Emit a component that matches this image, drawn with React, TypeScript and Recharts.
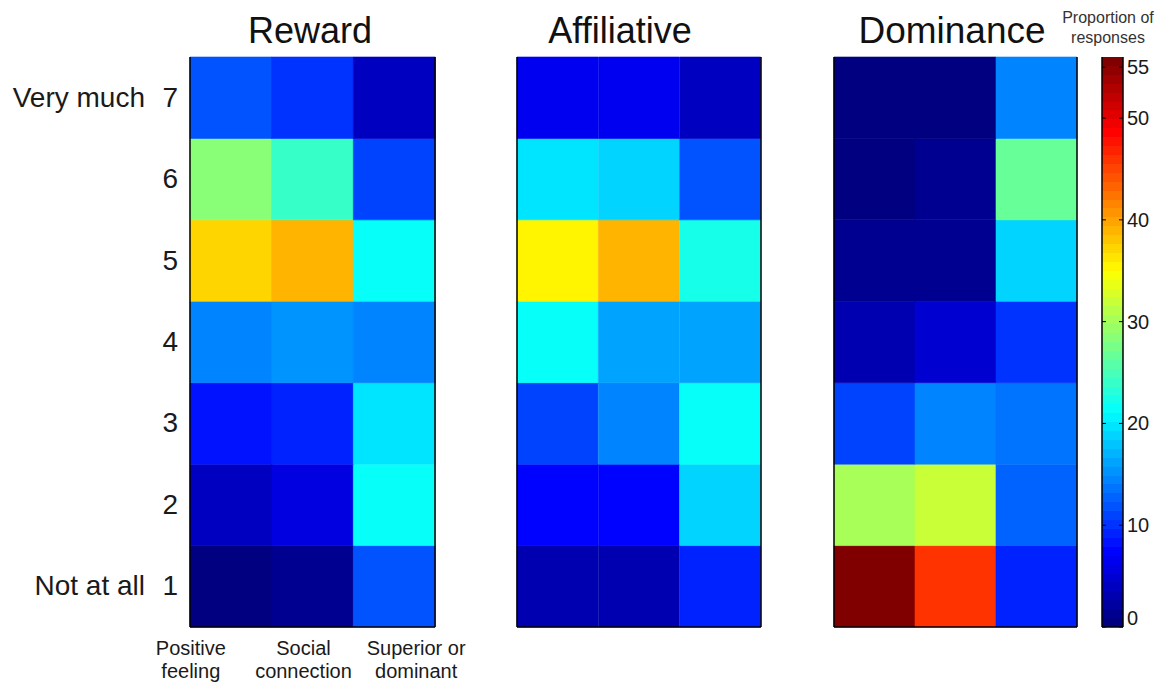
import { BarChart, Bar, Cell, XAxis, YAxis } from 'recharts';

const FONT = '"Liberation Sans", Arial, Helvetica, sans-serif';

// colour scale limits (proportion of responses, %)
const C_MIN = 0;
const C_MAX = 56;
const colorTicks = [0, 10, 20, 30, 40, 50, 55];

const categories = ['Positive feeling', 'Social connection', 'Superior or dominant'];
const categoryLines = [['Positive', 'feeling'], ['Social', 'connection'], ['Superior or', 'dominant']];
const ratings = [1, 2, 3, 4, 5, 6, 7];
const ratingAnchors = ['Not at all', '', '', '', '', '', 'Very much'];

// rows = rating 1..7, columns = categories
const reward = [
  [0.7, 1.4, 11.9],
  [3.5, 5.3, 21],
  [8.4, 9, 20],
  [14, 15.7, 14.7],
  [37.1, 38.9, 21.5],
  [28, 23.8, 10.6],
  [11.6, 10, 3.9],
];

const affiliative = [
  [2.8, 2.8, 8.8],
  [7, 7, 19.2],
  [10.8, 14, 21.7],
  [21, 16.5, 16.5],
  [35.7, 38.5, 22.4],
  [19.6, 18.9, 11.9],
  [6.3, 6.3, 3.9],
];

const dominance = [
  [55.8, 46.2, 9.1],
  [29.8, 32.2, 12.3],
  [10.6, 14, 13.6],
  [3.1, 5.2, 9.8],
  [1.1, 1.4, 18.9],
  [0.7, 1.1, 26.6],
  [0.7, 0.7, 14],
];

const clamp = (v: number) => Math.max(0, Math.min(1, v));
const jet = (t: number) => {
  const r = clamp(1.5 - Math.abs(4 * t - 3));
  const g = clamp(1.5 - Math.abs(4 * t - 2));
  const b = clamp(1.5 - Math.abs(4 * t - 1));
  return `rgb(${Math.round(r * 255)},${Math.round(g * 255)},${Math.round(b * 255)})`;
};
const levelColor = (v: number) => {
  const idx = Math.min(63, Math.max(0, Math.floor(((v - C_MIN) / (C_MAX - C_MIN)) * 64)));
  return jet(idx / 63);
};

const heatData = categories.map((name) => {
  const row: Record<string, any> = { name };
  ratings.forEach((r) => (row[`r${r}`] = 1));
  return row;
});
const rowTicks = ratings.map((r) => r - 0.5);
const labelShift = [-40, -9, 22];

const RatingTick = ({ x, y, payload }: any) => {
  const i = Math.round(payload.value - 0.5);
  return (
    <g>
      <text x={x - 12} y={y} dy={9} textAnchor="end" fontSize={28} fill="#1a1a1a" fontFamily={FONT}>
        {ratings[i]}
      </text>
      {ratingAnchors[i] && (
        <text x={x - 45} y={y} dy={9} textAnchor="end" fontSize={28} fill="#1a1a1a" fontFamily={FONT}>
          {ratingAnchors[i]}
        </text>
      )}
    </g>
  );
};

const CategoryTick = ({ x, y, index }: any) => (
  <text x={x + labelShift[index]} y={y} textAnchor="middle" fontSize={20} fill="#1a1a1a" fontFamily={FONT}>
    {categoryLines[index].map((line, k) => (
      <tspan key={k} x={x + labelShift[index]} y={y + 28 + k * 23}>
        {line}
      </tspan>
    ))}
  </text>
);

type PanelProps = { values: number[][]; left: number; width: number; plotLeft: number; plotRight: number; labels?: boolean };

function Panel({ values, left, width, plotLeft, plotRight, labels }: PanelProps) {
  return (
    <div style={{ position: 'absolute', left, top: 0 }}>
      <BarChart width={width} height={683} data={heatData} barCategoryGap={0} barGap={0} margin={{ top: 57, right: 0, bottom: 0, left: 0 }}>
        <XAxis dataKey="name" height={56} axisLine={{ stroke: '#000', strokeWidth: 1.5 }} tickLine={false} tickSize={0} tickMargin={0} tick={labels ? <CategoryTick /> : false} interval={0} />
        <XAxis xAxisId="top" dataKey="name" orientation="top" height={0} axisLine={{ stroke: '#000', strokeWidth: 1.5 }} tickLine={false} tick={false} />
        <YAxis type="number" domain={[0, 7]} ticks={rowTicks} width={plotLeft - left} axisLine={{ stroke: '#000', strokeWidth: 1.5 }} tickLine={false} tickSize={0} tickMargin={0} tick={labels ? <RatingTick /> : false} interval={0} />
        <YAxis yAxisId="right" orientation="right" type="number" domain={[0, 7]} width={left + width - plotRight} axisLine={{ stroke: '#000', strokeWidth: 1.5 }} tickLine={false} tick={false} />
        {ratings.map((r, ri) => (
          <Bar key={r} dataKey={`r${r}`} stackId="a" isAnimationActive={false}>
            {categories.map((c, ci) => (
              <Cell key={c} fill={levelColor(values[ri][ci])} stroke={levelColor(values[ri][ci])} strokeWidth={0.6} />
            ))}
          </Bar>
        ))}
      </BarChart>
    </div>
  );
}

const ColorTick = ({ x, y, payload }: any) => (
  <g>
    <line x1={x - 21} x2={x - 17} y1={y} y2={y} stroke="#000" strokeWidth={1} />
    <line x1={x - 4} x2={x} y1={y} y2={y} stroke="#000" strokeWidth={1} />
    <text x={x + 4} y={y} dy={payload.value === 0 ? -2 : 7} fontSize={20} fill="#1a1a1a" fontFamily={FONT}>
      {payload.value}
    </text>
  </g>
);

function ColorBar() {
  const stops: any[] = [];
  for (let i = 0; i < 64; i++) {
    stops.push(<stop key={`a${i}`} offset={i / 64} stopColor={jet(i / 63)} />);
    stops.push(<stop key={`b${i}`} offset={(i + 1) / 64} stopColor={jet(i / 63)} />);
  }
  return (
    <div style={{ position: 'absolute', left: 1080, top: 0 }}>
      <BarChart width={82} height={683} data={[{ name: 'scale', value: C_MAX }]} barCategoryGap={0} margin={{ top: 57, right: 0, bottom: 0, left: 0 }}>
        <defs>
          <linearGradient id="jetGrad" x1="0" y1="1" x2="0" y2="0">
            {stops}
          </linearGradient>
        </defs>
        <XAxis dataKey="name" height={56} axisLine={{ stroke: '#000', strokeWidth: 1.5 }} tickLine={false} tick={false} />
        <XAxis xAxisId="top" dataKey="name" orientation="top" height={0} axisLine={{ stroke: '#000', strokeWidth: 1.5 }} tickLine={false} tick={false} />
        <YAxis orientation="right" type="number" domain={[C_MIN, C_MAX]} ticks={colorTicks} interval={0} width={39} axisLine={{ stroke: '#000', strokeWidth: 1.5 }} tickLine={false} tickSize={0} tickMargin={0} tick={<ColorTick />} />
        <YAxis yAxisId="left" type="number" domain={[C_MIN, C_MAX]} width={22} axisLine={{ stroke: '#000', strokeWidth: 1.5 }} tickLine={false} tick={false} />
        <Bar dataKey="value" fill="url(#jetGrad)" isAnimationActive={false} />
      </BarChart>
    </div>
  );
}

export default function App() {
  return (
    <div style={{ position: 'relative', width: 1162, height: 683, background: '#fff', fontFamily: FONT, overflow: 'hidden' }}>
      <style>{'body{margin:0}'}</style>
      <Panel values={reward} left={0} width={470} plotLeft={190} plotRight={435} labels />
      <Panel values={affiliative} left={480} width={300} plotLeft={517} plotRight={761} />
      <Panel values={dominance} left={800} width={280} plotLeft={834} plotRight={1077} />
      <ColorBar />
      <svg width={1162} height={683} style={{ position: 'absolute', left: 0, top: 0, pointerEvents: 'none' }}>
        <g fontFamily={FONT} fill="#111" textAnchor="middle">
          <text x={310} y={43} fontSize={36}>Reward</text>
          <text x={620} y={43} fontSize={36}>Affiliative</text>
          <text x={952} y={43} fontSize={37}>Dominance</text>
          <text x={1108} y={23} fontSize={16} fill="#333">Proportion of</text>
          <text x={1108} y={43} fontSize={16} fill="#333">responses</text>
        </g>
      </svg>
    </div>
  );
}
